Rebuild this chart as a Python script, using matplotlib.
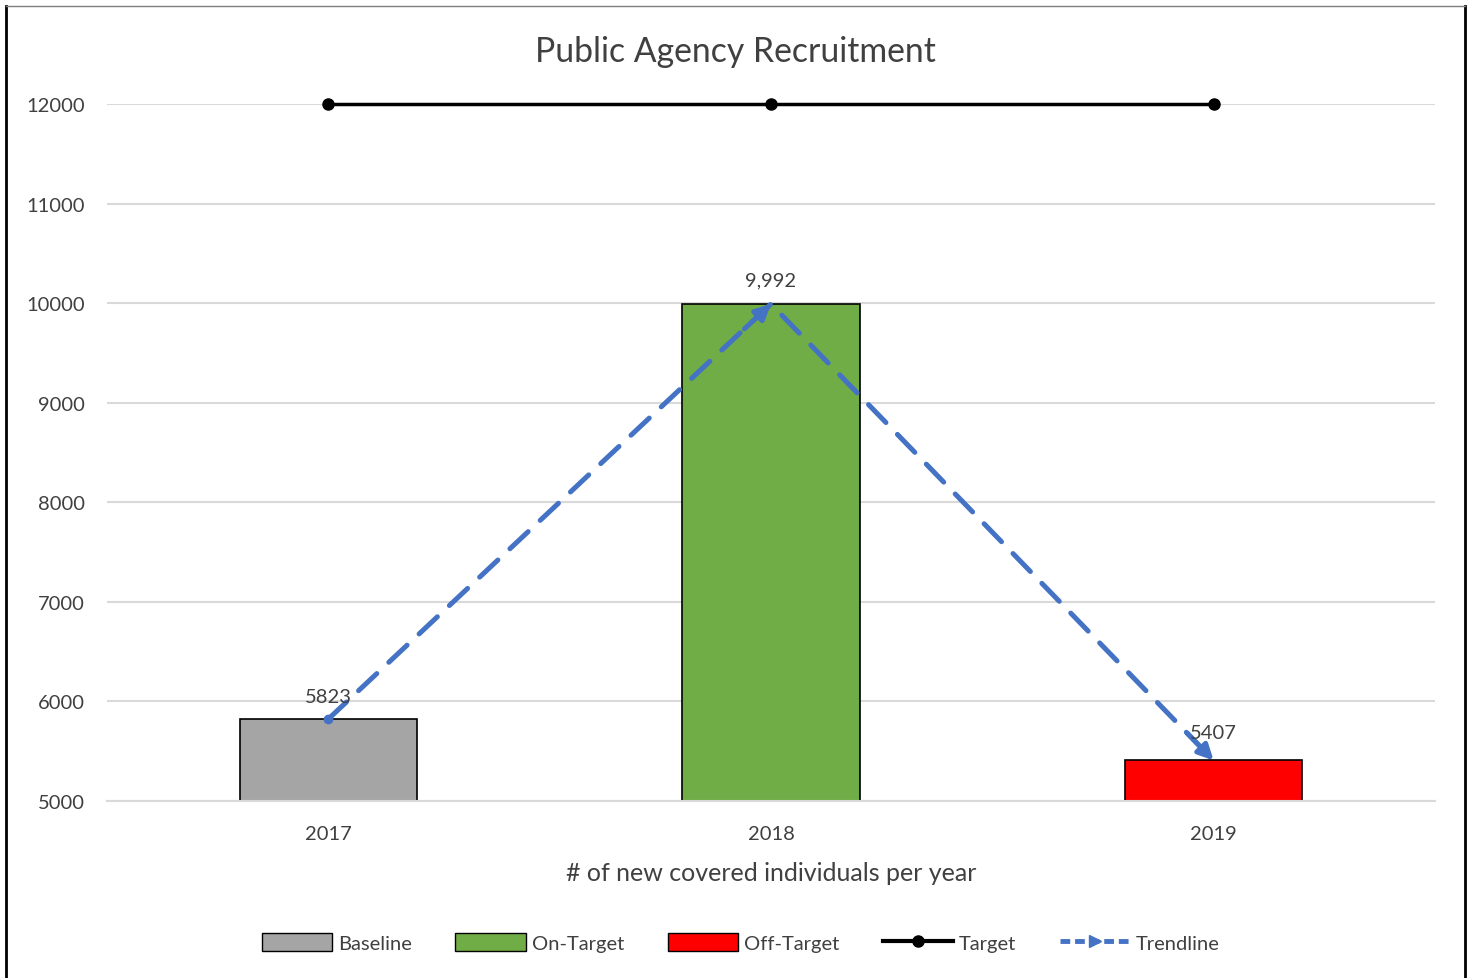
import matplotlib
matplotlib.use("Agg")
import matplotlib.pyplot as plt
from matplotlib.patches import Patch
from matplotlib.lines import Line2D

plt.rcParams['font.family'] = ['Lato', 'DejaVu Sans']

years = ["2017", "2018", "2019"]
values = [5823, 9992, 5407]
value_labels = ["5823", "9,992", "5407"]
bar_colors = ["#A5A5A5", "#70AD47", "#FF0000"]
target = [12000, 12000, 12000]
yticks = [5000, 6000, 7000, 8000, 9000, 10000, 11000, 12000]

text_color = "#404040"
trend_color = "#4472C4"

fig = plt.figure(figsize=(14.73, 9.79), dpi=100)
ax = fig.add_axes([0.0726, 0.1808, 0.9016, 0.7119])

x = list(range(len(years)))
ax.bar(x, [v - 5000 for v in values], bottom=5000, width=0.4,
       color=bar_colors, edgecolor="black", linewidth=1.2, zorder=2)

ax.plot(x, target, color="black", lw=2.5, marker="o", markersize=8, zorder=4,
        clip_on=False)

# trendline
ax.plot(x, values, color=trend_color, lw=3.6, dashes=(5, 3.3), zorder=5,
        dash_capstyle="round")
ax.plot(x[0], values[0], 'o', color=trend_color, markersize=6, zorder=5)
for i in range(1, len(x)):
    ax.annotate("", xy=(x[i], values[i]),
                xytext=(x[i] - (x[i] - x[i - 1]) * 0.06,
                        values[i] - (values[i] - values[i - 1]) * 0.06),
                arrowprops=dict(arrowstyle="-|>,head_length=0.9,head_width=0.45",
                                color=trend_color, lw=3.5, shrinkA=0, shrinkB=0),
                zorder=6)

offsets = [(0, 10), (0, 11), (0, 14)]
for xi, v, lab, off in zip(x, values, value_labels, offsets):
    ax.annotate(lab, (xi, v), xytext=off, textcoords="offset points",
                ha="center", va="bottom", fontsize=14.5, color=text_color, zorder=7)

ax.set_xlim(-0.5, 2.5)
ax.set_ylim(5000, 12000)
ax.set_yticks(yticks)
ax.set_yticklabels([str(t) for t in yticks])
ax.set_xticks(x)
ax.set_xticklabels(years)
ax.tick_params(axis="both", length=0, labelsize=14.5, colors=text_color)
ax.tick_params(axis="x", pad=17)
ax.tick_params(axis="y", pad=16)
ax.grid(axis="y", color="#D9D9D9", lw=1.5, zorder=0)
ax.set_axisbelow(True)
for s in ["top", "right", "left"]:
    ax.spines[s].set_visible(False)
ax.spines["bottom"].set_color("#D9D9D9")
ax.spines["bottom"].set_linewidth(1.5)

ax.set_xlabel("# of new covered individuals per year", fontsize=18,
              color=text_color, labelpad=14)
fig.text(0.499, 0.947, "Public Agency Recruitment", ha="center", va="center",
         fontsize=24.3, color=text_color)

handles = [
    Patch(facecolor=bar_colors[0], edgecolor="black", label="Baseline"),
    Patch(facecolor=bar_colors[1], edgecolor="black", label="On-Target"),
    Patch(facecolor=bar_colors[2], edgecolor="black", label="Off-Target"),
    Line2D([], [], color="black", lw=3, marker="o", markersize=8, label="Target"),
    Line2D([], [], color=trend_color, lw=3.5, dashes=(2, 1), marker=">",
           markersize=9, label="Trendline"),
]
fig.legend(handles=handles, loc="center", bbox_to_anchor=(0.503, 0.036), ncol=5,
           frameon=False, fontsize=14.5, labelcolor=text_color,
           handlelength=3.5, handleheight=1.0, columnspacing=2.15, handletextpad=0.3)

# chart border
fig.add_artist(Line2D([0.004, 0.004], [0, 0.993], transform=fig.transFigure,
                      color="black", lw=2))
fig.add_artist(Line2D([0.9945, 0.9945], [0, 0.993], transform=fig.transFigure,
                      color="black", lw=2))
fig.add_artist(Line2D([0.004, 0.9945], [0.993, 0.993], transform=fig.transFigure,
                      color="#7F7F7F", lw=1))

fig.savefig("out.png", dpi=100)
